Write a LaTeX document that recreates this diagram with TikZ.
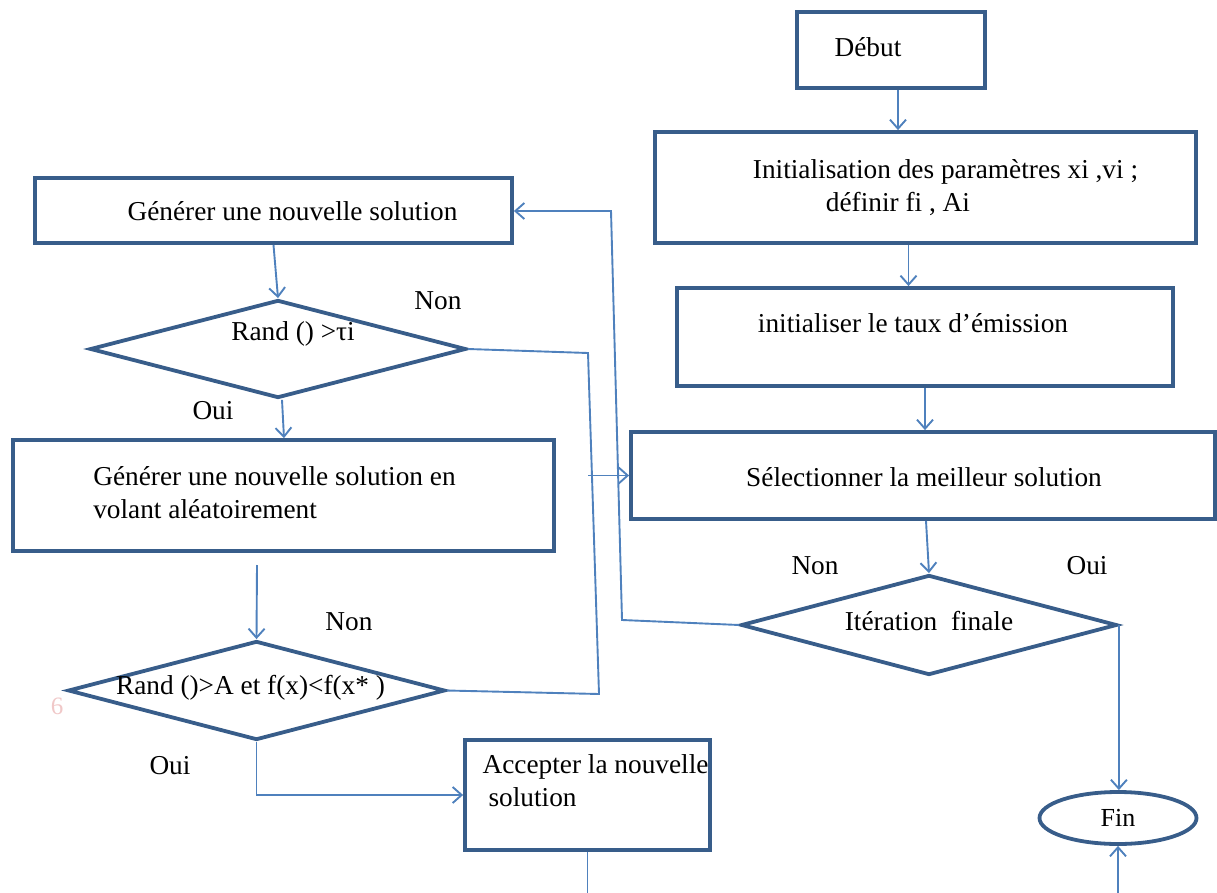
\documentclass[tikz,border=0pt]{standalone}
\usepackage{fontspec}
\setmainfont{Liberation Serif}
\usepackage{tikz}
\usetikzlibrary{arrows.meta, positioning, calc, shapes.geometric}
\definecolor{bordbleu}{RGB}{56,93,138}
\definecolor{lienbleu}{RGB}{79,129,189}
\definecolor{roseclair}{RGB}{240,200,200}

\begin{document}
\begin{tikzpicture}[x=1pt, y=-1pt,
    font=\fontsize{27.3}{33}\selectfont,
    boite/.style={draw=bordbleu, line width=3.8pt, inner sep=0pt},
    losange/.style={diamond, draw=bordbleu, line width=3.8pt, inner sep=0pt},
    texte/.style={inner sep=0pt, text=black},
    ligne/.style={draw=lienbleu, line width=1.9pt},
    fleche/.style={ligne, -{Straight Barb[length=9pt, width=16pt]}}]
  \useasboundingbox (0,0) rectangle (1217,893);
  % partie droite
  \node[boite, minimum width=188, minimum height=76,
        label={[texte, name=debut-t, xshift=-23, yshift=3]center:Début}] (debut) at (891,50) {};
  \node[boite, minimum width=541, minimum height=111,
        label={[texte, name=init-t, align=left, xshift=20]center:Initialisation des paramètres xi ,vi ;\\\hspace*{73pt}définir fi , Ai}] (init) at (925.5,187.5) {};
  \node[boite, minimum width=496, minimum height=98,
        label={[texte, name=taux-t, xshift=-12, yshift=14]center:initialiser le taux d’émission}] (taux) at (925,337) {};
  \node[boite, minimum width=584, minimum height=87,
        label={[texte, name=select-t, xshift=1, yshift=-1.5]center:Sélectionner la meilleur solution}] (select) at (923,475.5) {};
  \node[losange, minimum width=376, minimum height=100,
        label={[texte, name=iter-t, yshift=4]center:Itération\ \ finale}] (iter) at (929,625) {};
  \node[ellipse, draw=bordbleu, line width=3.8pt, minimum width=157, minimum height=52, inner sep=0pt,
        label={[texte, name=fin-t, font=\fontsize{26}{30}\selectfont]center:Fin}] (fin) at (1118,818) {};
  % partie gauche
  \node[boite, minimum width=477, minimum height=65,
        label={[texte, name=gen-t, xshift=19, yshift=-1]center:Générer une nouvelle solution}] (gen) at (273.5,210.5) {};
  \node[losange, minimum width=376, minimum height=98,
        label={[texte, name=rand1-t, xshift=15, yshift=15]center:Rand () >τi}] (rand1) at (278,349) {};
  \node[boite, minimum width=541, minimum height=111,
        label={[texte, name=gen2-t, align=left, xshift=-9, yshift=2.5]center:Générer une nouvelle solution en\\volant aléatoirement}] (gen2) at (283.5,495.5) {};
  \node[losange, minimum width=377, minimum height=99,
        label={[texte, name=rand2-t, xshift=-6, yshift=2.5]center:Rand ()>A et f(x)<f(x* )}] (rand2) at (256.5,690.5) {};
  \node[boite, minimum width=245, minimum height=110,
        label={[texte, name=accept-t, align=left, xshift=8, yshift=14]center:Accepter la nouvelle\\\hspace*{6pt}solution}] (accept) at (587.5,795) {};
  % etiquettes
  \node[texte] (non1) at (438,301) {Non};
  \node[texte] (oui1) at (213,411) {Oui};
  \node[texte] (non2) at (349,622) {Non};
  \node[texte] (oui2) at (170,766) {Oui};
  \node[texte] (non3) at (815,566) {Non};
  \node[texte] (oui3) at (1087,566) {Oui};
  \node[texte, text=roseclair, font=\fontsize{25}{28}\selectfont] (six) at (57,706) {6};
  % points de passage
  \coordinate (bas) at (0,893);
  \coordinate (c1) at (257,565);
  \coordinate (c2) at (588,353);
  \coordinate (c3) at (599,694);
  \coordinate (b1) at (622,620);
  \coordinate (b2) at (611,211);
  % liaisons
  \draw[fleche] ([xshift=7]debut.south) -- ([xshift=7]debut.south |- init.north);
  \draw[fleche] ([xshift=-17]init.south) -- ([xshift=-17]init.south |- taux.north);
  \draw[fleche] (taux.south) -- (taux.south |- select.north);
  \draw[fleche] ([xshift=3]select.south) -- (iter.north);
  \draw[fleche] (iter.east) -- (iter.east |- fin.north);
  \draw[fleche] (fin.south |- bas) -- (fin.south);
  \draw[fleche] (iter.west) -- (b1) -- (b2) -- (b2 -| gen.east);
  \draw[fleche] (gen.south) -- (rand1.north);
  \draw[fleche] ([xshift=4]rand1.south) -- ([xshift=6]rand1.south |- gen2.north);
  \draw[fleche] (c1) -- (rand2.north);
  \draw[fleche] (rand2.south) |- (accept.west);
  \draw[ligne] (accept.south) -- (accept.south |- bas);
  \draw[ligne] (rand1.east) -- (c2) -- (c3) -- (rand2.east);
  \draw[fleche] (c2 |- select.west) -- (select.west);
\end{tikzpicture}
\end{document}
